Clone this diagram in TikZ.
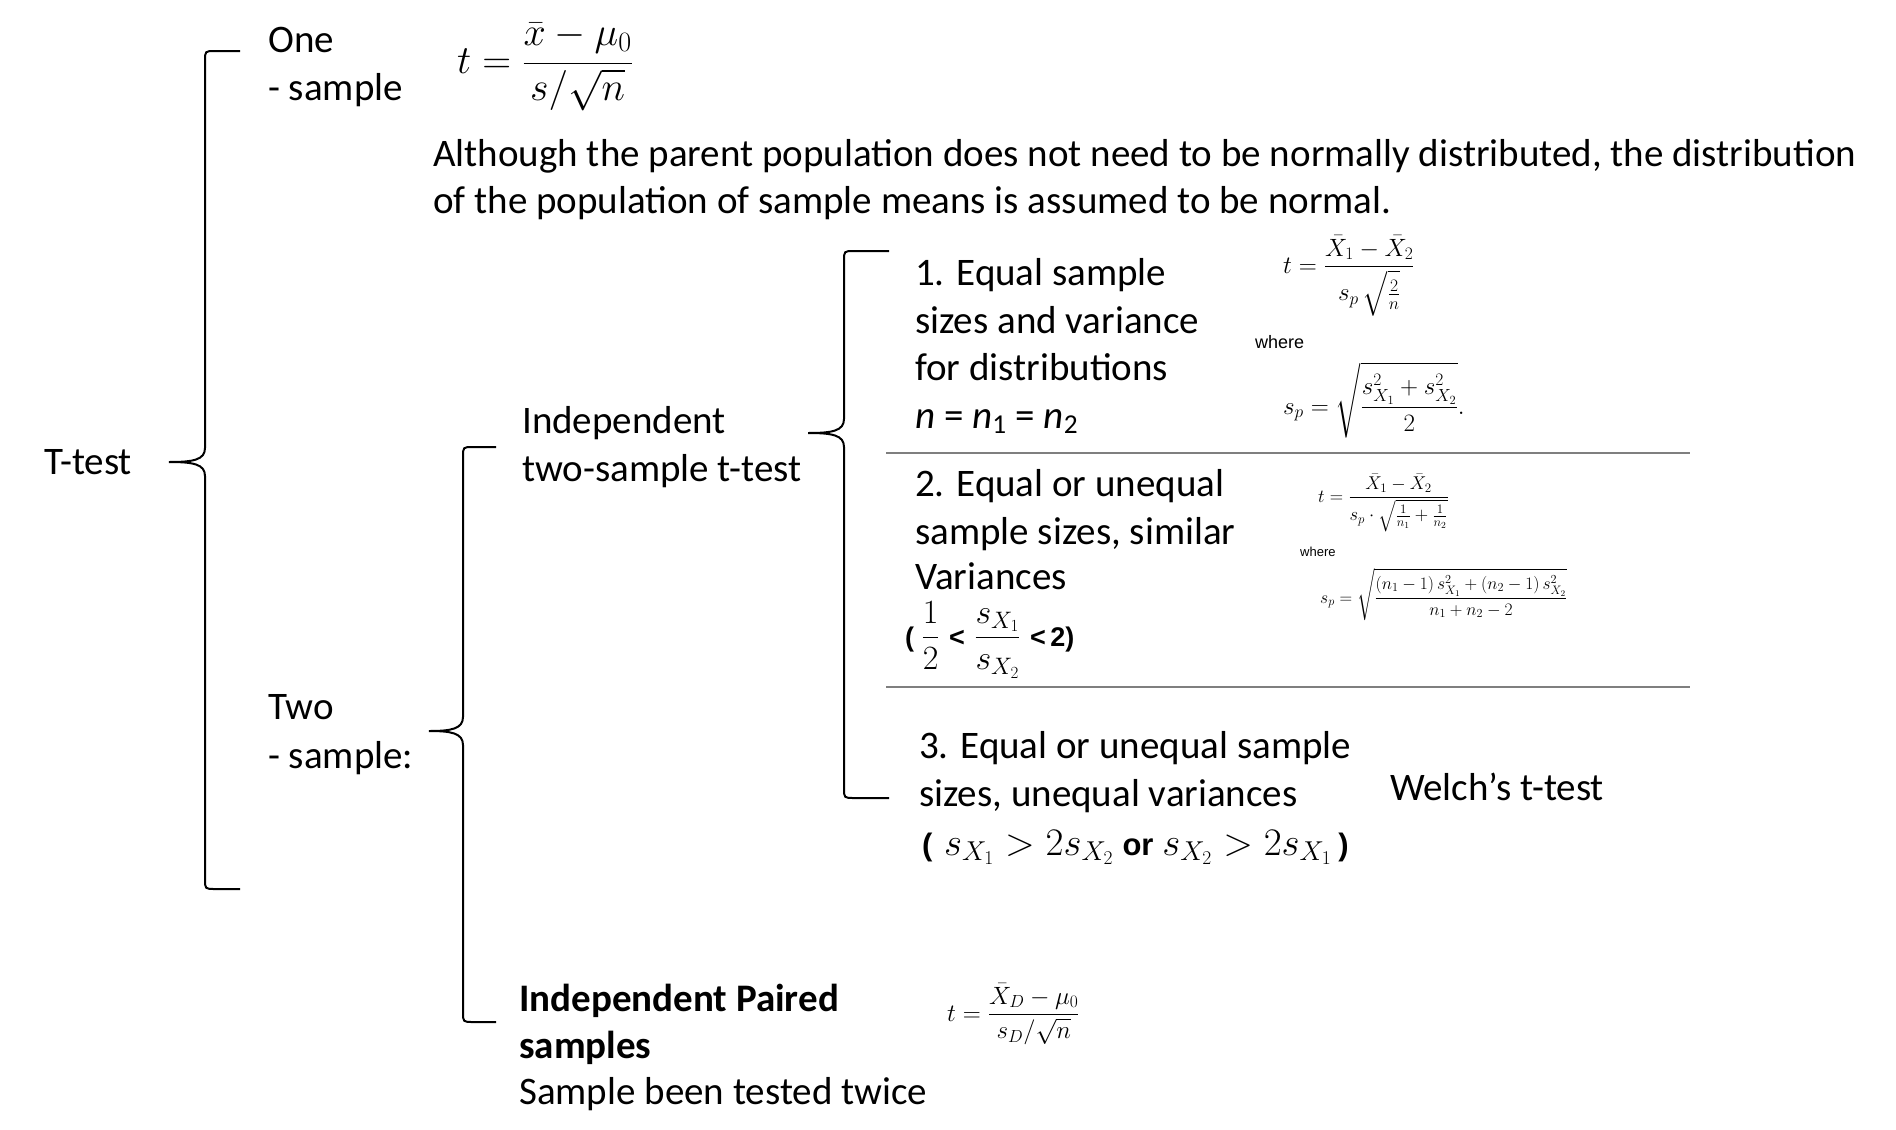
\RequirePackage{fix-cm}
\documentclass[tikz,border=0pt]{standalone}
\usepackage{amsmath}
\usepackage[no-math]{fontspec}
\setmainfont{Carlito}
\newfontfamily\arialfont{Liberation Sans}
\usetikzlibrary{positioning}
\definecolor{ink}{HTML}{000000}
\definecolor{rulegrey}{HTML}{7F7F7F}

\tikzset{
  txt/.style={anchor=base west,inner sep=0pt,text=ink,font=\fontsize{39}{46}\selectfont},
  eqn/.style={anchor=base west,inner sep=0pt,text=ink,font=\fontsize{#1}{#1}\selectfont},
  wherelbl/.style={anchor=west,inner sep=0pt,text=ink,font=\arialfont\fontsize{#1}{#1}\selectfont},
  bracestroke/.style={draw=ink,line width=2pt},
  divider/.style={draw=rulegrey,line width=2pt}
}

\begin{document}
\begin{tikzpicture}[x=1pt,y=-1pt]
  \useasboundingbox (0,0) rectangle (1896,1130);
  % tip x, spine x, arm x, top y, tip y, bottom y
  \def\lbrace#1#2#3#4#5#6{
    \draw[bracestroke] (#3,#4) -- (#2+10,#4) .. controls (#2,#4) .. (#2,#4+10)
      -- (#2,#5-14) .. controls (#2,#5-2) and (#2-12,#5) .. (#1,#5)
      .. controls (#2-12,#5) and (#2,#5+2) .. (#2,#5+14)
      -- (#2,#6-10) .. controls (#2,#6) .. (#2+10,#6) -- (#3,#6);}
  \lbrace{169}{205}{240}{51}{462}{889}
  \lbrace{429}{463}{496}{447}{731}{1022}
  \lbrace{808}{844}{889}{251}{433}{798}

  % left column
  \node[txt] (ttest) at (44,474) {T-test};
  \node[txt] (one) at (268,52) {One};
  \node[txt] (onesmp) at (268,100) {- sample};
  \node[txt] (two) at (268,719) {Two};
  \node[txt] (twosmp) at (268,768) {- sample:};

  % one sample
  \node[eqn=40] (oneform) at (457,73) {$\displaystyle t=\frac{\bar{x}-\mu_0}{s/\sqrt{n}}$};
  \node[txt] (note1) at (433,166) {Although the parent population does not need to be normally distributed, the distribution};
  \node[txt] (note2) at (433,213) {of the population of sample means is assumed to be normal.};

  % two sample
  \node[txt] (indep1) at (522,433) {Independent};
  \node[txt] (indep2) at (522,481) {two-sample t-test};

  % case 1
  \node[txt] (caseA1) at (915,285) {1. Equal sample};
  \node[txt] (caseA2) at (915,333) {sizes and variance};
  \node[txt] (caseA3) at (915,380) {for distributions};
  \node[txt] (caseA4) at (915,428) {\textit{n} = \textit{n}\textsubscript{1} = \textit{n}\textsubscript{2}};
  \node[eqn=25] (formAt) at (1283,273) {$\displaystyle t=\frac{\bar{X}_1-\bar{X}_2}{s_p\,\sqrt{\vphantom{\big|}\frac{2}{n}}}$};
  \node[wherelbl=18] (whereA) at (1255,342) {where};
  \node[eqn=25] (formAs) at (1283,414) {$\displaystyle s_p=\sqrt{\frac{s_{X_1}^2+s_{X_2}^2}{2}}.$};
  \draw[divider] (886,453) -- (1690,453);

  % case 2
  \node[txt] (caseB1) at (915,496) {2. Equal or unequal};
  \node[txt] (caseB2) at (915,544) {sample sizes, similar};
  \node[txt] (caseB3) at (915,589) {Variances};
  \node[eqn=34] (caseB4) at (905,646) {{\arialfont\bfseries\fontsize{27}{27}\selectfont (\;}$\displaystyle\frac{1}{2}$\;{\arialfont\bfseries\fontsize{27}{27}\selectfont <}\;$\displaystyle\frac{s_{X_1}}{s_{X_2}}$\;{\arialfont\bfseries\fontsize{27}{27}\selectfont <\,2)}};
  \node[eqn=18.5] (formBt) at (1318,502) {$\displaystyle t=\frac{\bar{X}_1-\bar{X}_2}{s_p\cdot\sqrt{\frac{1}{n_1}+\frac{1}{n_2}}}$};
  \node[wherelbl=13] (whereB) at (1300,552) {where};
  \node[eqn=17.5] (formBs) at (1320,603) {$\displaystyle s_p=\sqrt{\frac{(n_1-1)\,s_{X_1}^2+(n_2-1)\,s_{X_2}^2}{n_1+n_2-2}}$};
  \draw[divider] (886,687) -- (1690,687);

  % case 3
  \node[txt] (caseC1) at (919,758) {3. Equal or unequal sample};
  \node[txt] (caseC2) at (919,806) {sizes, unequal variances};
  \node[eqn=39] (caseC3) at (922,855) {{\arialfont\bfseries\fontsize{31}{31}\selectfont (\,}$\,s_{X_1}>2s_{X_2}$ {\arialfont\bfseries\fontsize{31}{31}\selectfont or} $s_{X_2}>2s_{X_1}$\,{\arialfont\bfseries\fontsize{31}{31}\selectfont )}};
  \node[txt] (welch) at (1390,800) {Welch’s t-test};

  % paired
  \node[txt,font=\fontsize{39}{46}\selectfont\bfseries] (pair1) at (519,1011) {Independent Paired};
  \node[txt,font=\fontsize{39}{46}\selectfont\bfseries] (pair2) at (519,1058) {samples};
  \node[txt] (pair3) at (519,1104) {Sample been tested twice};
  \node[eqn=25] (pairform) at (947,1021) {$\displaystyle t=\frac{\bar{X}_D-\mu_0}{s_D/\sqrt{n}}$};
\end{tikzpicture}
\end{document}
